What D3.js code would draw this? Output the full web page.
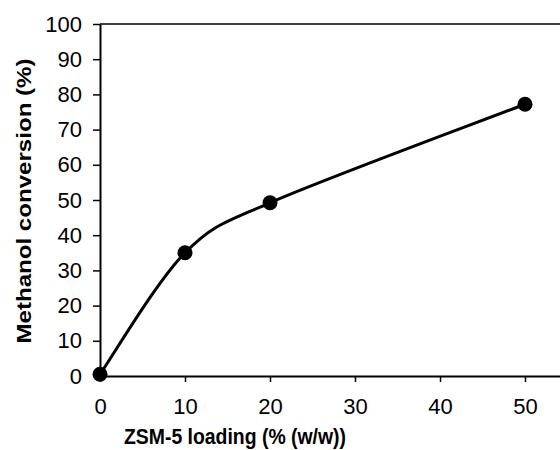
<!DOCTYPE html>
<html><head><meta charset="utf-8">
<script src="https://cdn.jsdelivr.net/npm/d3@7"></script>
<style>body{margin:0;background:#fff}svg{display:block}</style>
</head><body>
<svg id="chart" width="560" height="450"></svg>
<script>
const loading = [0, 10, 20, 50];
const conversion = [0.5, 35, 49.2, 77.2];
const xTicks = [0, 10, 20, 30, 40, 50];
const yTicks = [0, 10, 20, 30, 40, 50, 60, 70, 80, 90, 100];
const xTitle = "ZSM-5 loading (% (w/w))";
const yTitle = "Methanol conversion (%)";

// Excel-style smoothed line as a d3 curve factory
function curveExcel(context) {
  let pts = [];
  return {
    areaStart() {}, areaEnd() {},
    lineStart() { pts = []; },
    point(x, y) { pts.push([+x, +y]); },
    lineEnd() {
      const n = pts.length;
      if (!n) return;
      context.moveTo(pts[0][0], pts[0][1]);
      const dist = (a, b) => Math.hypot(b[0] - a[0], b[1] - a[1]);
      for (let i = 0; i < n - 1; i++) {
        const p0 = pts[Math.max(i - 1, 0)], p1 = pts[i], p2 = pts[i + 1], p3 = pts[Math.min(i + 2, n - 1)];
        const d12 = dist(p1, p2), d02 = dist(p0, p2), d13 = dist(p1, p3);
        const f = d02 > 0 ? Math.min(1 / 6, d12 / (2 * d02)) : 0;
        const g = d13 > 0 ? Math.min(1 / 6, d12 / (2 * d13)) : 0;
        context.bezierCurveTo(
          p1[0] + f * (p2[0] - p0[0]), p1[1] + f * (p2[1] - p0[1]),
          p2[0] - g * (p3[0] - p1[0]), p2[1] - g * (p3[1] - p1[1]),
          p2[0], p2[1]);
      }
    }
  };
}

const svg = d3.select("#chart");
const x = d3.scaleLinear().domain([0, 60]).range([100, 610]);
const y = d3.scaleLinear().domain([0, 100]).range([376, 24]);
const font = "Liberation Sans, Arial, sans-serif";

// top border
svg.append("line").attr("x1", x(0)).attr("x2", x(60)).attr("y1", y(100)).attr("y2", y(100))
  .attr("stroke", "#000").attr("stroke-width", 1.5);

const xAxis = svg.append("g").attr("transform", `translate(0,${y(0)})`)
  .call(d3.axisBottom(x).tickValues(xTicks).tickSize(6).tickPadding(16).tickSizeOuter(0));
const yAxis = svg.append("g").attr("transform", `translate(${x(0)},0)`)
  .call(d3.axisLeft(y).tickValues(yTicks).tickSize(7).tickPadding(11).tickSizeOuter(0));
[xAxis, yAxis].forEach(g => {
  g.select(".domain").attr("stroke", "#000").attr("stroke-width", 2);
  g.selectAll(".tick line").attr("stroke", "#000").attr("stroke-width", 1.5);
  g.selectAll(".tick text").attr("fill", "#000").style("font-family", font).style("font-size", "22px");
});

const pts = loading.map((d, i) => [d, conversion[i]]);
svg.append("path").datum(pts)
  .attr("d", d3.line().x(d => x(d[0])).y(d => y(d[1])).curve(curveExcel))
  .attr("fill", "none").attr("stroke", "#000").attr("stroke-width", 3);
svg.selectAll("circle.pt").data(pts).join("circle").attr("class", "pt")
  .attr("cx", d => x(d[0])).attr("cy", d => y(d[1])).attr("r", 7.5).attr("fill", "#000");

svg.append("text").attr("x", 235).attr("y", 444).attr("text-anchor", "middle")
  .attr("textLength", 222).attr("lengthAdjust", "spacingAndGlyphs")
  .style("font-family", font).style("font-size", "22px").style("font-weight", "bold").text(xTitle);
svg.append("text").attr("transform", "translate(31,201) rotate(-90)").attr("text-anchor", "middle")
  .attr("textLength", 285).attr("lengthAdjust", "spacingAndGlyphs")
  .style("font-family", font).style("font-size", "20px").style("font-weight", "bold").text(yTitle);
</script>
</body></html>
